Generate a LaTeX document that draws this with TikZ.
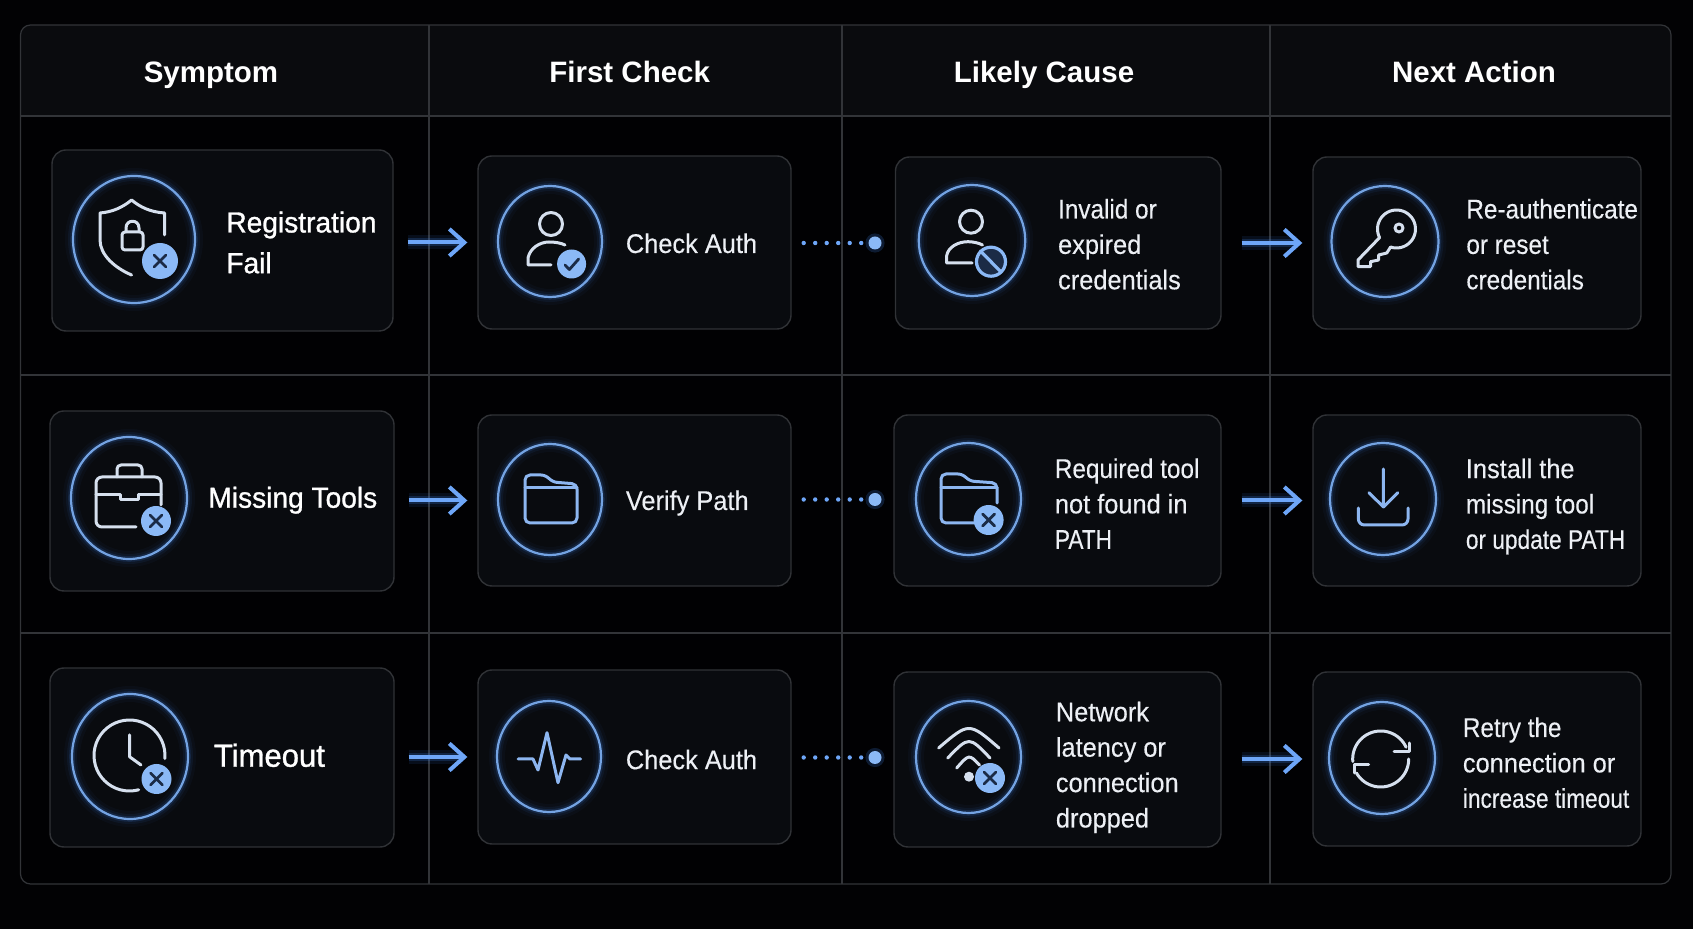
\documentclass[tikz,border=0pt]{standalone}
\usepackage{fontspec}
\setmainfont{Liberation Sans}
\newfontfamily\fa[FakeStretch=0.94,FakeBold=0.3]{Liberation Sans}
\newfontfamily\fb[FakeStretch=0.90,FakeBold=0.3]{Liberation Sans}
\newfontfamily\fc[FakeStretch=0.84,FakeBold=0.3]{Liberation Sans}
\newfontfamily\fm[FakeBold=1,FakeStretch=0.97]{Liberation Sans}
\usetikzlibrary{arrows.meta,fit,shapes.geometric}
\definecolor{bgc}{HTML}{020204}
\definecolor{cellc}{HTML}{010103}
\definecolor{headc}{HTML}{0A0B0E}
\definecolor{gridc}{HTML}{323438}
\definecolor{cardc}{HTML}{090B0F}
\definecolor{cardl}{HTML}{303236}
\definecolor{ringc}{HTML}{74A3E2}
\definecolor{glowc}{HTML}{3F86F0}
\definecolor{arrc}{HTML}{6EA6F8}
\definecolor{iconw}{HTML}{D6E0EE}
\definecolor{iconb}{HTML}{8DB6F0}
\definecolor{badgec}{HTML}{8BB9F6}
\definecolor{markc}{HTML}{1B2B46}
\definecolor{txtc}{HTML}{EDF0F5}
\newcommand{\arcp}[5]{plot[variable=\t,domain=#4:#5,samples=40] ({#1+#3*cos(\t)},{#2+#3*sin(\t)})}
\newcommand{\cardn}[5]{\node[card,fit={(#2,#3) (#4,#5)}] (#1) {};}
\newcommand{\ringn}[5]{\node[ring,minimum width=0.5*#4pt,minimum height=0.5*#5pt] (#1) at (#2,#3) {};}
\newcommand{\xbadge}[4]{\node[badge,minimum size=#4pt] (#1) at (#2,#3) {};
  \draw[xm,shift={(#2,#3)}] (-6,-6) -- (6,6) (-6,6) -- (6,-6);}
\tikzset{
  x=0.5pt,y=-0.5pt,
  card/.style={draw=cardl,fill=cardc,line width=0.7pt,rounded corners=7pt,inner sep=0pt},
  ring/.style={ellipse,inner sep=0pt,draw=ringc,line width=1.1pt,
    preaction={draw=glowc,opacity=0.04,line width=8pt},
    preaction={draw=glowc,opacity=0.07,line width=5pt},
    preaction={draw=glowc,opacity=0.15,line width=2.8pt}},
  ic/.style={draw=iconw,line width=1.5pt,line cap=round,line join=round},
  icb/.style={draw=iconb,line width=1.5pt,line cap=round,line join=round},
  badge/.style={circle,fill=badgec,inner sep=0pt},
  xm/.style={draw=markc,line width=1.4pt,line cap=round,line join=round},
  flow/.style={draw=arrc,line width=2pt,-{Straight Barb[length=7.5pt,width=13.5pt,line width=2pt]},
    preaction={draw=glowc,opacity=0.10,line width=7pt},
    preaction={draw=glowc,opacity=0.20,line width=4pt}},
  dots/.style={draw=arrc,line width=2.2pt,line cap=round,dash pattern=on 0pt off 5.75pt},
  enddot/.style={circle,fill=badgec,inner sep=0pt,minimum size=6.5pt,
    preaction={draw=glowc,opacity=0.2,line width=3pt}},
  head/.style={anchor=base,text=white,font=\fontsize{14.75}{18}\selectfont\bfseries},
  lblm/.style={anchor=west,inner sep=0pt,align=left,text=white,font=\fontsize{14.5}{20.35}\selectfont\fm},
  lbl/.style={anchor=west,inner sep=0pt,align=left,text=txtc,font=\fontsize{13.5}{17.7}\selectfont},
}
\begin{document}
\begin{tikzpicture}
\useasboundingbox (0,0) rectangle (1693,929);
\fill[bgc] (0,0) rectangle (1693,929);
% table
\fill[cellc,rounded corners=5pt] (20.5,25) rectangle (1671,884);
\fill[headc,rounded corners=5pt] (20.5,116) -- (20.5,25) -- (1671,25) -- (1671,116) -- cycle;
\fill[headc] (20.5,105) rectangle (1671,116);
\draw[gridc,line width=0.6pt,rounded corners=5pt] (20.5,25) rectangle (1671,884);
\draw[gridc,line width=0.6pt] (20.5,116) -- (1671,116) (20.5,375) -- (1671,375) (20.5,633) -- (1671,633)
  (429,25) -- (429,884) (842,25) -- (842,884) (1270,25) -- (1270,884);
% headers
\node[head] (h1) at (211,82.7) {Symptom};
\node[head] (h2) at (629.7,82.7) {First Check};
\node[head] (h3) at (1044,82.7) {Likely Cause};
\node[head] (h4) at (1474,82.7) {Next Action};
% cards
\cardn{c11}{52}{150}{393}{331}
\cardn{c12}{478}{156}{791}{329}
\cardn{c13}{895.5}{157}{1221}{329}
\cardn{c14}{1313}{157}{1641}{329}
\cardn{c21}{50}{411}{394}{591}
\cardn{c22}{478}{415}{791}{586}
\cardn{c23}{894}{415}{1221}{586}
\cardn{c24}{1313}{415}{1641}{586}
\cardn{c31}{50}{668}{394}{847}
\cardn{c32}{478}{670}{791}{844}
\cardn{c33}{894}{672}{1221}{847}
\cardn{c34}{1313}{672}{1641}{846}
% rings
\ringn{r11}{134}{239.5}{122}{127}
\ringn{r12}{550}{241.5}{104}{111}
\ringn{r13}{972}{240.5}{106.5}{111}
\ringn{r14}{1385}{241.5}{107}{111}
\ringn{r21}{129}{498}{116}{122}
\ringn{r22}{550}{499.5}{104}{111}
\ringn{r23}{968.5}{499}{105}{112}
\ringn{r24}{1383}{499}{106}{112}
\ringn{r31}{130}{756.5}{116}{125}
\ringn{r32}{549}{756.5}{104}{111}
\ringn{r33}{968.5}{757}{105}{112}
\ringn{r34}{1382}{758}{106}{112}
% arrows
\foreach \p/\q in {c11/c12,c21/c22,c31/c32}{
  \draw[flow,shorten <=7pt,shorten >=5pt] (\p.east |- \q.west) -- (\q.west);}
\foreach \p/\q in {c13/c14,c23/c24,c33/c34}{
  \draw[flow,shorten <=10pt,shorten >=5pt] (\p.east |- \q.west) -- (\q.west);}
% dotted connectors
\node[enddot] (d1) at (875,243) {};
\node[enddot] (d2) at (875,499.5) {};
\node[enddot] (d3) at (875,757.5) {};
\draw[dots,shorten <=6pt] (c12.east |- d1) -- (d1);
\draw[dots,shorten <=6pt] (c22.east |- d2) -- (d2);
\draw[dots,shorten <=6pt] (c32.east |- d3) -- (d3);
% shield
\draw[ic] (164.5,235) -- (164.5,213) .. controls (150,212) and (140,207) .. (131.6,200)
  .. controls (123,207) and (113,212) .. (100,213) -- (100,240) .. controls (100,255) and (115,268) .. (131.6,275);
\draw[ic,rounded corners=1.5pt] (122,232) rectangle (143,250);
\draw[ic] (126,232) -- (126,228) .. controls (126,219) and (139,219) .. (139,228) -- (139,232);
\xbadge{b11}{160}{261}{18}
% user check
\draw[ic] (551,224) circle[radius=11.5];
\draw[ic] (551,265) -- (528,265) -- (528,258) .. controls (530,248) and (540,242) .. (549,242) .. controls (555,242) and (561,243) .. (565,245);
\node[badge,minimum size=14.5pt] (b12) at (571.6,264) {};
\draw[xm] (565,265) -- (569.4,269.5) -- (578.7,259);
% user prohibited
\draw[ic] (971,221.7) circle[radius=11.5];
\draw[ic] (972,263) -- (946.6,263) -- (946.6,256) .. controls (948,247) and (958,241.7) .. (968,241.7) .. controls (973,241.7) and (979,243) .. (982.5,245);
\node[circle,fill=markc,draw=badgec,line width=1.6pt,inner sep=0pt,minimum size=14.5pt] (b13) at (991,261.7) {};
\draw[draw=badgec,line width=1.6pt,line cap=round] (980.5,251) -- (1001,272);
% key
\draw[ic] (1379.6,237.6) -- (1358,260) -- (1358,266.7) -- (1370.5,266.7) -- (1370.5,261.7) -- (1378.6,260) -- (1378.6,255) -- (1386.8,253) -- (1390.6,247);
\draw[ic] \arcp{1396.5}{229}{19}{108}{-207};
\draw[ic] (1399,228) circle[radius=4];
% briefcase
\draw[ic,rounded corners=3pt] (161,505) -- (161,477) -- (96,477) -- (96,527) -- (136,527);
\draw[ic,rounded corners=2pt] (117,477) -- (117,465) -- (142,465) -- (142,477);
\draw[ic] (96,495) -- (120,495) -- (120,500) -- (138.5,500) -- (138.5,495) -- (161,495);
\xbadge{b21}{156}{521}{15}
% folder
\draw[icb,rounded corners=2.5pt] (525,523) -- (525,475) -- (546,475) -- (552,482) -- (577,484) -- (577,523) -- cycle;
\draw[icb] (525,488) -- (577,488);
% folder with badge
\draw[icb,rounded corners=2.5pt] (974,523) -- (941,523) -- (941,474) -- (963,474) -- (969,481) -- (997,483) -- (997,503);
\draw[icb] (941,488) -- (997,488);
\xbadge{b23}{988.6}{520}{15}
% download
\draw[icb] (1383.4,469) -- (1383.4,507) (1369,492.7) -- (1383.4,507) -- (1397.7,492.7);
\draw[icb,rounded corners=3pt] (1358.4,508) -- (1358.4,525) -- (1408,525) -- (1408,508);
% clock
\draw[ic] \arcp{129.5}{755.5}{35.5}{75}{365};
\draw[ic] (129.5,735) -- (129.5,756.7) -- (141,765);
\xbadge{b31}{156.5}{779}{15}
% pulse
\draw[icb] (518,759) -- (533,759) -- (538,770) -- (547,732.7) -- (558,782.7) -- (566,755) -- (570,759) -- (580.5,759);
% wifi
\draw[ic] (938.6,748) .. controls (969,722) .. (999,748);
\draw[ic] (947.7,758) .. controls (969,736) .. (990,758);
\draw[ic] (956.7,768) .. controls (969,754) .. (979.5,765);
\fill[iconw] (969,776.7) circle[radius=5];
\xbadge{b33}{990}{778}{15}
% refresh
\draw[ic] \arcp{1380.7}{759}{28}{175}{335};
\draw[ic] (1409,743) -- (1409,752) -- (1394,752);
\draw[ic] \arcp{1380.7}{759}{28}{0}{150};
\draw[ic] (1354,773) -- (1354,765) -- (1368.5,765);
% labels
\node[lblm] (t11) at (226,244.7) {\strut Registration\\\fm Fail\strut};
\node[lblm] (t21) at (208,499.6) {\strut Missing Tools\strut};
\node[lblm,font=\fontsize{16}{20.35}\selectfont\fm] (t31) at (213.5,758.6) {\strut Timeout\strut};
\node[lbl] (t12) at (625.5,245.9) {\strut\fa Check Auth\strut};
\node[lbl] (t22) at (625.5,502.9) {\strut\fa Verify Path\strut};
\node[lbl] (t32) at (625.5,762.1) {\strut\fa Check Auth\strut};
\node[lbl] (t13) at (1057.7,246.8) {\strut\fb Invalid or\\\fa expired\\\fa credentials\strut};
\node[lbl] (t23) at (1054.5,506.3) {\strut\fb Required tool\\\fa not found in\\\fc PATH\strut};
\node[lbl] (t33) at (1055.5,767.3) {\strut\fa Network\\\fa latency or\\\fa connection\\\fa dropped\strut};
\node[lbl] (t14) at (1466,246.8) {\strut\fb Re-authenticate\\\fb or reset\\\fb credentials\strut};
\node[lbl] (t24) at (1465.5,506.4) {\strut\fa Install the\\\fb missing tool\\\fc or update PATH\strut};
\node[lbl] (t34) at (1462.5,765.3) {\strut\fb Retry the\\\fa connection or\\\fc increase timeout\strut};
\end{tikzpicture}
\end{document}
